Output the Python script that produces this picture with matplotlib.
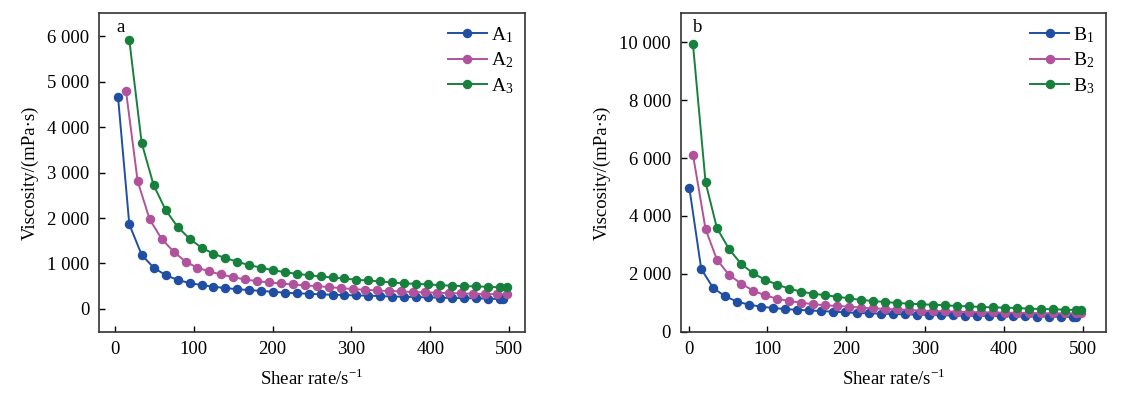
import matplotlib
matplotlib.use("Agg")
import matplotlib.pyplot as plt
from matplotlib.ticker import FuncFormatter

plt.rcParams['font.family'] = ['Liberation Serif', 'DejaVu Serif']
plt.rcParams['mathtext.fontset'] = 'custom'
plt.rcParams['mathtext.rm'] = 'Liberation Serif'
plt.rcParams['font.size'] = 13.5

# panel a data (shear rate, viscosity)
a1_x = [3.8, 18.1, 33.8, 48.9, 64.1, 79.3, 94.5, 109.7, 124.5, 139.2, 154.9, 170, 185.2, 200, 215.6, 230.4, 245.6,
        260.8, 276, 291, 305.9, 321.5, 336.3, 351.5, 366.7, 381.9, 397, 412.2, 427.4, 442.6, 457.8, 473, 488, 492]
a1_y = [4660, 1860, 1190, 910, 745, 640, 570, 525, 490, 460, 435, 415, 398, 378, 358, 343, 335,
        320, 313, 305, 298, 291, 284, 272, 268, 262, 254, 247, 241, 238, 233, 225, 218, 218]
a2_x = [13.9, 28.7, 43.9, 59, 74.3, 89.5, 104.2, 119.4, 134.6, 149.8, 165, 180.2, 195.4, 210.6, 225.8, 241, 256.2,
        271.4, 286.6, 301.8, 317, 332.2, 347.4, 362.6, 377.8, 393, 408.2, 423.4, 438.6, 453.8, 469, 484.2, 497.5]
a2_y = [4790, 2810, 1970, 1545, 1260, 1040, 910, 825, 758, 700, 648, 612, 582, 561, 539, 517, 502,
        481, 459, 437, 422, 407, 393, 386, 371, 364, 357, 349, 342, 335, 327, 327, 320]
a3_x = [18.1, 33.8, 48.9, 64.1, 79.3, 94.5, 109.7, 124.5, 139.2, 154.9, 170, 185.2, 200, 215.6, 230.4, 245.6,
        260.8, 276, 291, 305.9, 321.5, 336.3, 351.5, 366.7, 381.9, 397, 412.2, 427.4, 442.6, 457.8, 473, 488, 497]
a3_y = [5912, 3652, 2726, 2179, 1807, 1545, 1348, 1217, 1122, 1042, 962, 911, 852, 809, 772, 743,
        714, 692, 670, 641, 626, 604, 582, 561, 553, 539, 524, 510, 502, 495, 488, 473, 473]

# panel b data
b1_x = [1, 16.1, 31.3, 46.5, 61.8, 77, 92.2, 107.4, 122.6, 137.8, 153, 168.2, 183.4, 198.6, 213.8, 229, 244.2,
        259.4, 274.6, 289.8, 305, 320.2, 335.4, 350.6, 365.8, 381, 396.2, 411.4, 426.6, 441.8, 457, 472.2, 487.4, 492]
b1_y = [4977, 2166, 1510, 1222, 1037, 933, 864, 818, 783, 755, 735, 715, 690, 669, 646, 635, 623,
        612, 600, 588, 577, 566, 560, 554, 548, 542, 537, 531, 527, 522, 519, 515, 508, 508]
b23_x = [5.6, 21.6, 36, 51.6, 66.9, 82, 97, 112.5, 127.7, 143, 158, 173.3, 188.5, 203.7, 219, 234, 249.5,
         264.7, 280, 295, 310, 325.5, 340.7, 356, 371, 386.5, 401.7, 417, 432, 447.5, 462.7, 478, 492, 498]
b2_y = [6117, 3548, 2488, 1959, 1659, 1417, 1256, 1141, 1060, 1000, 950, 915, 888, 865, 830, 807, 784,
        773, 750, 727, 715, 704, 692, 681, 669, 665, 658, 652, 646, 640, 635, 635, 632, 632]
b3_y = [9941, 5161, 3583, 2846, 2339, 2017, 1798, 1625, 1487, 1383, 1313, 1260, 1210, 1153, 1095, 1061, 1026,
        992, 969, 946, 934, 911, 888, 877, 853, 842, 830, 819, 796, 784, 773, 761, 750, 750]

colors = ['#1f4ea3', '#b0529c', '#17803d']


def thousands(v, pos):
    return '{:,.0f}'.format(v).replace(',', ' ')


fig = plt.figure(figsize=(11.23, 3.93), dpi=100)
ax_a = fig.add_axes([0.0884, 0.156, 0.379, 0.810])
ax_b = fig.add_axes([0.6061, 0.156, 0.379, 0.810])

series_a = [(a1_x, a1_y, r'$\mathregular{A_1}$'), (a2_x, a2_y, r'$\mathregular{A_2}$'),
            (a3_x, a3_y, r'$\mathregular{A_3}$')]
series_b = [(b1_x, b1_y, r'$\mathregular{B_1}$'), (b23_x, b2_y, r'$\mathregular{B_2}$'),
            (b23_x, b3_y, r'$\mathregular{B_3}$')]

for ax, series, lab, xlim, ylim, yt in [
        (ax_a, series_a, 'a', (-20, 520), (-500, 6500), range(0, 6001, 1000)),
        (ax_b, series_b, 'b', (-10, 530), (0, 11000), range(0, 10001, 2000))]:
    for (x, y, name), c in zip(series, colors):
        ax.plot(x, y, '-o', color=c, lw=1.4, ms=5.8, label=name)
    ax.set_xlim(*xlim)
    ax.set_ylim(*ylim)
    ax.set_xticks(range(0, 501, 100))
    ax.set_yticks(list(yt))
    ax.yaxis.set_major_formatter(FuncFormatter(thousands))
    ax.tick_params(direction='in', length=4, width=1, pad=7, top=False, right=False)
    for s in ax.spines.values():
        s.set_linewidth(1.2)
        s.set_color('#333333')
    ax.set_xlabel('Shear rate/s$^{\\mathregular{-1}}$', labelpad=7)
    ax.set_ylabel('Viscosity/(mPa·s)', labelpad=6)
    ax.text(0.04 if lab == 'a' else 0.03, 0.955, lab, transform=ax.transAxes, ha='left', va='center')
    ax.legend(loc='upper right', frameon=False, handlelength=2.0, handletextpad=0.2,
              labelspacing=0.3, borderaxespad=0.2, fontsize=14)

fig.savefig('out.png', dpi=100)
